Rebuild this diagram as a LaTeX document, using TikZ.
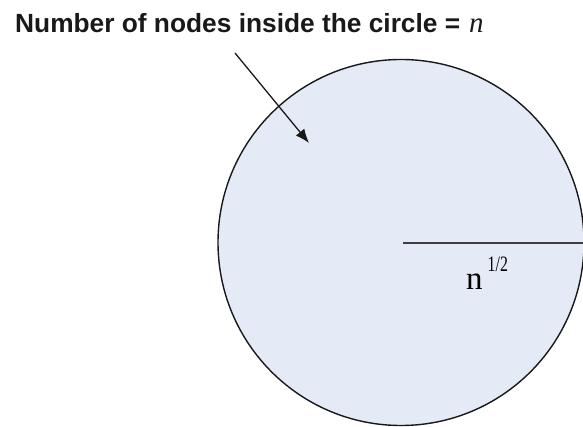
\documentclass[tikz,border=0pt]{standalone}
\usepackage{fontspec}
\usepackage{graphicx}
\setmainfont{Liberation Sans}
\newfontfamily\serifface{Liberation Serif}
\usetikzlibrary{arrows.meta}
\definecolor{discfill}{RGB}{228,234,246}
\definecolor{edgecol}{RGB}{25,25,25}
\tikzset{
  disc/.style={circle, draw=edgecol, line width=1.4pt, fill=discfill, minimum size=366pt, inner sep=0pt, outer sep=0pt},
  pointer/.style={draw=edgecol, line width=1.3pt, -{Latex[length=14pt,width=11pt]}},
  radius/.style={draw=black!75, line width=2pt},
  title/.style={anchor=base west, inner sep=0pt, text=black!90},
  rlabel/.style={anchor=base west, inner sep=0pt}
}
\begin{document}
\begin{tikzpicture}[x=1pt,y=-1pt]
\useasboundingbox (0,0) rectangle (583,427);
\node[disc] (circ) at (401,242.5) {};
\coordinate (rstart) at (403,243);
\draw[radius] (rstart) -- (circ.east |- rstart);
\node[title] (ttl) at (15,33) {\fontsize{26.3}{30}\selectfont\bfseries Number of nodes inside the circle =\hspace{9pt}{\serifface\mdseries\itshape\fontsize{29}{30}\selectfont n}};
\coordinate (ptrA) at (235,53);
\coordinate (ptrB) at (309,143);
\draw[pointer] (ptrA) -- (ptrB);
\node[rlabel] (lbl) at (466,290) {\serifface\fontsize{33}{33}\selectfont n\hspace{5pt}\raisebox{18pt}{\fontsize{22}{22}\selectfont\scalebox{0.72}[1]{1/2}}};
\end{tikzpicture}
\end{document}
